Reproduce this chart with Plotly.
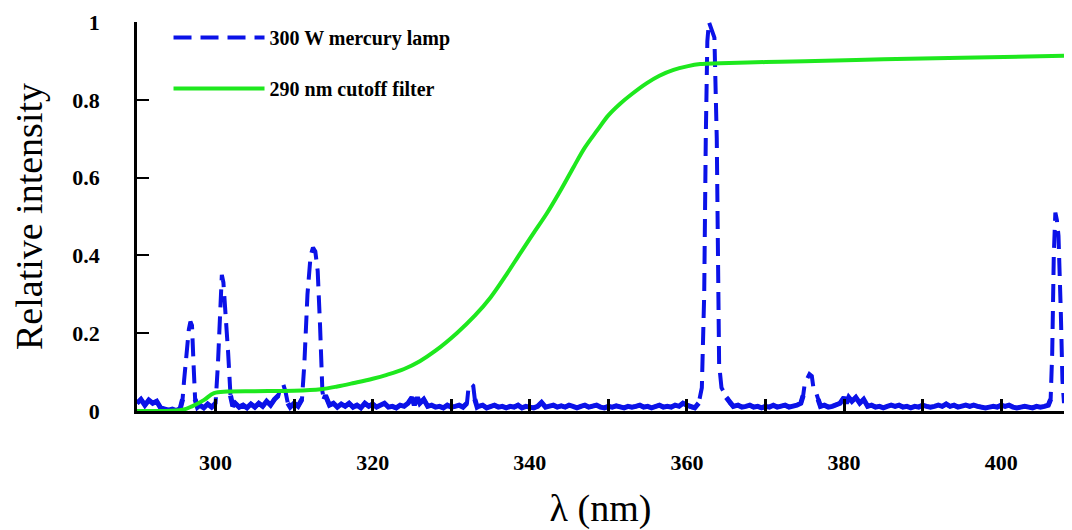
import plotly.graph_objects as go

# ---------------- data ----------------
# 300 W mercury lamp spectrum (wavelength in nm, relative intensity)
lamp_wl = [
    290.0, 290.5, 291.0, 291.5, 292.0, 292.5, 293.0, 293.5, 294.0, 294.5, 295.0, 295.5,
    295.8, 296.0, 296.3, 296.6, 296.8, 297.0, 297.2, 297.4, 297.7,
    298.0, 298.5, 299.0, 299.5, 300.0,
    300.3, 300.6, 300.8, 301.0, 301.3, 301.6, 301.9, 302.2,
    302.5, 303.0, 303.5, 304.0, 304.5, 305.0, 305.5, 306.0, 306.5, 307.0, 307.5, 308.0,
    308.3, 308.6, 308.9, 309.2, 309.5, 310.0, 310.5, 311.0,
    311.3, 311.7, 312.1, 312.4, 312.7, 313.0, 313.3, 313.6, 313.8, 314.0,
    314.5, 315.0, 315.5, 316.0, 316.5, 317.0, 317.5, 318.0, 318.5, 319.0, 319.5, 320.0,
    320.5, 321.0, 321.5, 322.0, 322.5, 323.0, 323.5, 324.0, 324.5, 325.0, 325.3, 325.7,
    326.0, 326.5, 327.0, 327.5, 328.0, 328.5, 329.0, 329.5, 330.0, 330.5, 331.0, 331.5, 332.0,
    332.2, 332.5, 332.8, 333.0, 333.3,
    333.5, 334.0, 334.5, 335.0, 335.5, 336.0, 336.5, 337.0, 337.5, 338.0,
    338.5, 339.0, 339.5, 340.0, 340.5, 341.0, 341.5, 342.0, 342.5, 343.0,
    343.5, 344.0, 344.5, 345.0, 345.5, 346.0, 346.5, 347.0, 347.5, 348.0,
    348.5, 349.0, 349.5, 350.0, 350.5, 351.0, 351.5, 352.0, 352.5, 353.0,
    353.5, 354.0, 354.5, 355.0, 355.5, 356.0, 356.5, 357.0, 357.5, 358.0,
    358.5, 359.0, 359.5, 360.0, 360.5, 361.0, 361.5,
    361.9, 362.2, 362.4, 362.6, 362.8, 363.0, 363.2, 363.5, 363.8, 364.0, 364.1, 364.4,
    365.0, 365.5, 365.9,
    366.5, 367.0, 367.5, 368.0, 368.5, 369.0, 369.5, 370.0, 370.5, 371.0, 371.5, 372.0,
    372.5, 373.0, 373.5, 374.0, 374.5,
    374.8, 375.0, 375.3, 375.6, 375.9, 376.1, 376.4, 376.7,
    377.0, 377.5, 378.0, 378.5, 379.0, 379.5, 380.0, 380.3, 380.6, 381.0, 381.5, 382.0, 382.5,
    383.0, 383.5, 384.0, 384.5, 385.0, 385.5, 386.0, 386.5, 387.0, 387.5,
    388.0, 388.5, 389.0, 389.5, 390.0, 390.5, 391.0, 391.5, 392.0, 392.5,
    393.0, 393.5, 394.0, 394.5, 395.0, 395.5, 396.0, 396.5, 397.0, 397.5,
    398.0, 398.5, 399.0, 399.5, 400.0, 400.5, 401.0, 401.5, 402.0, 402.5,
    403.0, 403.5, 404.0, 404.5, 405.0, 405.5, 406.0,
    406.3, 406.5, 406.7, 406.9, 407.1, 407.3, 407.6, 407.8, 408.0,
]
lamp_int = [
    0.020, 0.030, 0.015, 0.028, 0.020, 0.025, 0.008, 0.004, 0.002, 0.005, 0.001, 0.006,
    0.030, 0.080, 0.150, 0.210, 0.230, 0.220, 0.120, 0.030, 0.010,
    0.015, 0.008, 0.018, 0.010, 0.020,
    0.120, 0.300, 0.350, 0.330, 0.250, 0.150, 0.040, 0.012,
    0.020, 0.010, 0.015, 0.008, 0.018, 0.010, 0.020, 0.012, 0.025, 0.015, 0.030, 0.040,
    0.065, 0.070, 0.050, 0.020, 0.010, 0.020, 0.012, 0.030,
    0.120, 0.300, 0.400, 0.420, 0.410, 0.360, 0.220, 0.050, 0.030, 0.040,
    0.015, 0.020, 0.010, 0.018, 0.012, 0.020, 0.010, 0.015, 0.008, 0.020, 0.012, 0.018,
    0.010, 0.015, 0.020, 0.010, 0.012, 0.008, 0.015, 0.012, 0.020, 0.035, 0.015, 0.035,
    0.020, 0.030, 0.012, 0.015, 0.010, 0.012, 0.008, 0.015, 0.010, 0.012, 0.015, 0.010, 0.020,
    0.060, 0.070, 0.065, 0.030, 0.010,
    0.012, 0.015, 0.008, 0.012, 0.015, 0.010, 0.012, 0.008, 0.012, 0.010,
    0.015, 0.008, 0.012, 0.010, 0.008, 0.012, 0.022, 0.010, 0.012, 0.015,
    0.010, 0.013, 0.010, 0.015, 0.012, 0.008, 0.012, 0.015, 0.010, 0.012,
    0.015, 0.010, 0.008, 0.012, 0.010, 0.013, 0.010, 0.008, 0.012, 0.010,
    0.012, 0.015, 0.010, 0.012, 0.008, 0.012, 0.015, 0.010, 0.012, 0.010,
    0.015, 0.012, 0.020, 0.015, 0.010, 0.008, 0.020,
    0.060, 0.300, 0.700, 0.950, 1.000, 0.990, 0.980, 0.960, 0.700, 0.300, 0.120, 0.060,
    0.035, 0.020, 0.012,
    0.015, 0.010, 0.012, 0.015, 0.010, 0.012, 0.008, 0.012, 0.010, 0.015, 0.010, 0.012,
    0.015, 0.010, 0.012, 0.015, 0.020,
    0.040, 0.070, 0.085, 0.095, 0.090, 0.060, 0.050, 0.030,
    0.012, 0.015, 0.010, 0.012, 0.015, 0.020, 0.035, 0.020, 0.035, 0.025, 0.035, 0.020, 0.030,
    0.012, 0.015, 0.010, 0.012, 0.008, 0.012, 0.015, 0.012, 0.015, 0.010,
    0.012, 0.008, 0.012, 0.010, 0.015, 0.012, 0.010, 0.012, 0.015, 0.012,
    0.018, 0.012, 0.015, 0.010, 0.012, 0.015, 0.012, 0.015, 0.012, 0.010,
    0.008, 0.010, 0.012, 0.010, 0.015, 0.012, 0.015, 0.010, 0.008, 0.010,
    0.012, 0.010, 0.008, 0.012, 0.010, 0.012, 0.015,
    0.030, 0.150, 0.400, 0.510, 0.490, 0.450, 0.250, 0.080, 0.020,
]

# 290 nm cutoff filter transmission
filter_wl = [290.0, 293.0, 295.8, 297.0, 298.5, 299.8, 301.5, 305.0, 310.0, 313.4,
             315.5, 317.6, 320.0, 321.8, 324.0, 326.0, 328.0, 330.7, 333.0, 335.0,
             337.0, 338.8, 340.5, 342.2, 344.0, 345.6, 347.0, 348.6, 350.0, 351.5,
             353.0, 354.9, 356.5, 358.3, 360.0, 361.7, 364.2, 370.0, 375.0, 385.0,
             395.0, 408.0]
filter_int = [0.000, 0.000, 0.003, 0.012, 0.028, 0.046, 0.050, 0.051, 0.052, 0.056,
              0.063, 0.072, 0.083, 0.093, 0.108, 0.128, 0.155, 0.200, 0.245, 0.292,
              0.350, 0.406, 0.458, 0.509, 0.570, 0.628, 0.677, 0.722, 0.760, 0.790,
              0.815, 0.843, 0.862, 0.877, 0.886, 0.892, 0.894, 0.897, 0.899, 0.904,
              0.908, 0.913]

x_ticks = [300, 320, 340, 360, 380, 400]
y_ticks = [0, 0.2, 0.4, 0.6, 0.8, 1.0]
y_ticktext = ["0", "0.2", "0.4", "0.6", "0.8", "1"]

n = min(len(lamp_wl), len(lamp_int))
lamp_wl, lamp_int = lamp_wl[:n], lamp_int[:n]

BLUE = "#0b12e8"
GREEN = "#1ee81e"
SERIF = "Liberation Serif, Times New Roman, serif"

# baseline part of the lamp spectrum (dense noise looks solid in the original)
lamp_base = [v if v < 0.045 else None for v in lamp_int]

fig = go.Figure()
fig.add_trace(go.Scatter(
    x=lamp_wl, y=lamp_base, mode="lines", showlegend=False,
    legendgroup="lamp", hoverinfo="skip",
    line=dict(color=BLUE, width=5), connectgaps=False,
))
fig.add_trace(go.Scatter(
    x=lamp_wl, y=lamp_int, mode="lines", name="300 W mercury lamp",
    legendgroup="lamp",
    line=dict(color=BLUE, width=4, dash="18px,9px"),
))
fig.add_trace(go.Scatter(
    x=filter_wl, y=filter_int, mode="lines", name="290 nm cutoff filter",
    legendgroup="filter", line=dict(color=GREEN, width=4, shape="spline", smoothing=1.0),
))

# page body adds an 8px offset, so the figure is 8px smaller than the window
fig.update_layout(
    width=1064, height=522,
    margin=dict(l=129, r=8, t=14, b=119),
    paper_bgcolor="white", plot_bgcolor="white",
    font=dict(family=SERIF, color="black"),
    showlegend=True,
    legend=dict(
        x=0.034, y=1.01, xanchor="left", yanchor="top",
        bgcolor="rgba(0,0,0,0)", borderwidth=0,
        font=dict(family=SERIF, size=20, weight="bold", color="black"),
        traceorder="grouped", tracegroupgap=22, itemwidth=91,
    ),
    xaxis=dict(
        range=[290, 408], tickvals=x_ticks, automargin=False,
        ticks="inside", ticklen=12, tickwidth=3, tickcolor="black",
        minor=dict(dtick=10, tick0=290, ticks="inside", ticklen=12, tickwidth=3, tickcolor="black"),
        showline=True, linecolor="black", linewidth=3, mirror=False,
        showgrid=False, zeroline=False,
        tickfont=dict(family=SERIF, size=22, weight="bold", color="black"),
        ticklabelstandoff=30,
        title=dict(text="λ (nm)", font=dict(family=SERIF, size=38, color="black"), standoff=20),
    ),
    yaxis=dict(
        range=[0, 1.0], tickvals=y_ticks, ticktext=y_ticktext, automargin=False,
        ticks="inside", ticklen=12, tickwidth=2, tickcolor="black",
        showline=True, linecolor="black", linewidth=2.5, mirror=False,
        showgrid=False, zeroline=False,
        tickfont=dict(family=SERIF, size=22, weight="bold", color="black"),
        ticklabelstandoff=30,
        title=dict(text="Relative intensity", font=dict(family=SERIF, size=38, color="black"), standoff=22),
    ),
)

fig.write_html("out.html")
